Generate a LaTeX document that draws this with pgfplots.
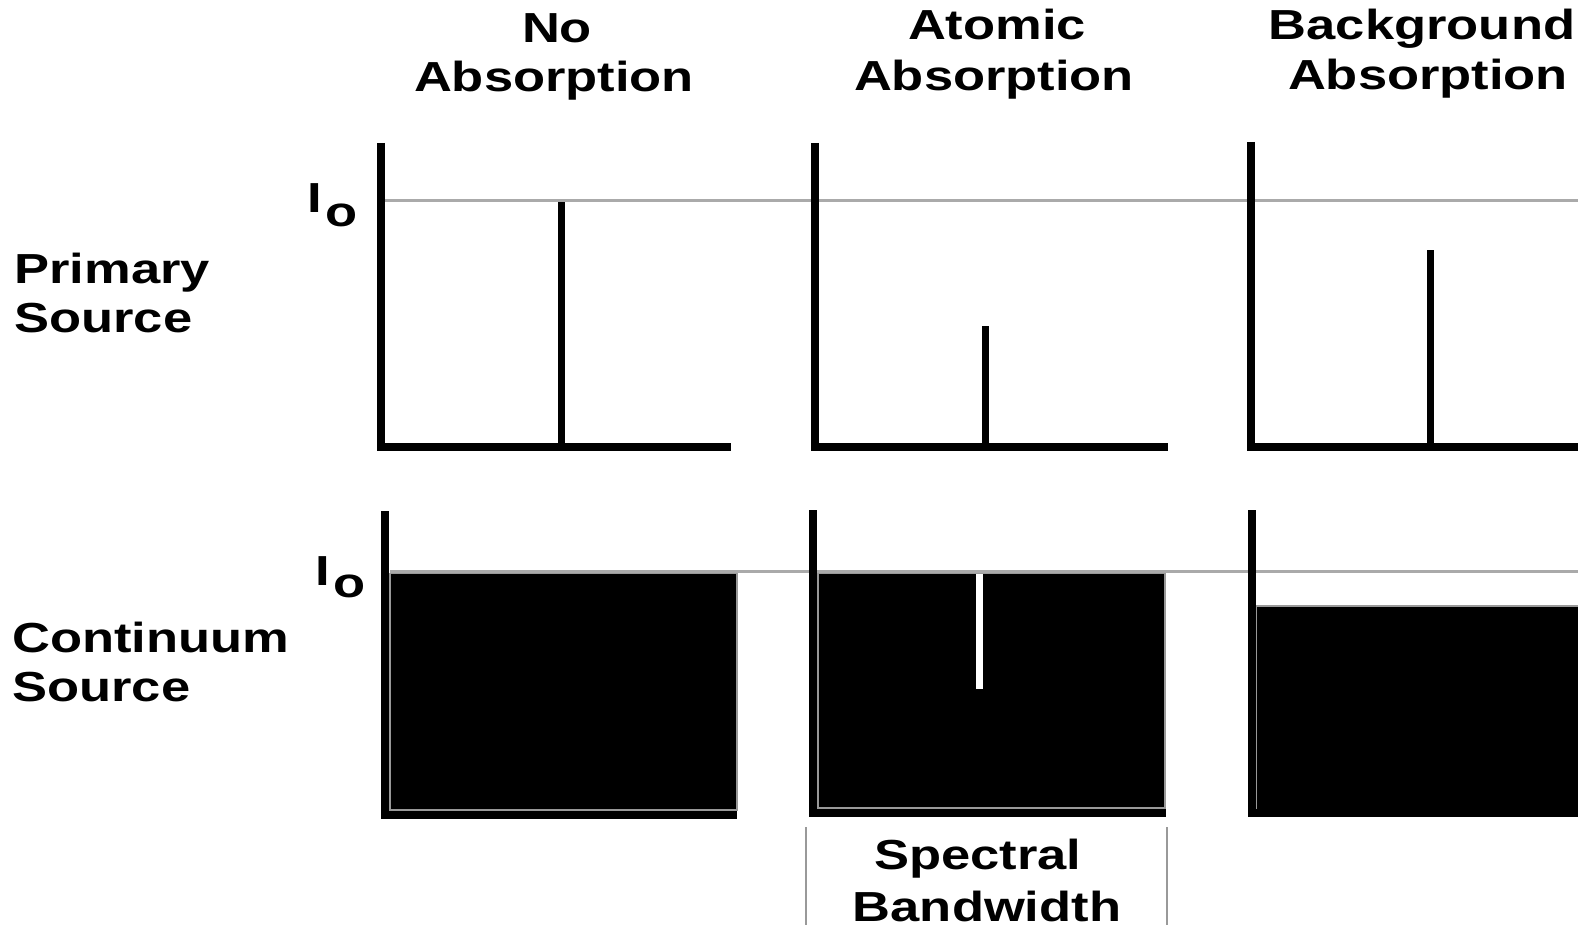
\documentclass[border=0pt]{standalone}
\usepackage{fontspec}
\usepackage{pgfplots}
\pgfplotsset{compat=1.18}
\newfontfamily\hv{Liberation Sans}[FakeStretch=1.25]
\definecolor{ioline}{HTML}{AAAAAA}
\definecolor{edge}{HTML}{999999}
\tikzset{lab/.style={font={\hv\bfseries\fontsize{21pt}{24.5pt}\selectfont}, inner sep=0pt, text=black}}
\begin{document}
\begin{tikzpicture}
\useasboundingbox (0,0) rectangle (789pt,462.5pt);
\clip (0,0) rectangle (789pt,462.5pt);
\begin{axis}[at={(0,0)}, anchor=south west, scale only axis,
  width=789pt, height=462.5pt,
  xmin=0, xmax=1578, ymin=0, ymax=925, y dir=reverse,
  axis lines=none, clip=false]

% ---- continuum-source emission (filled areas) ----
\addplot[fill=black, draw=edge, line width=1pt] coordinates {(390,573) (737,573) (737,810) (390,810) (390,573)};
\addplot[fill=black, draw=edge, line width=1pt] coordinates {(818,573) (1165,573) (1165,808) (818,808) (818,573)};
\addplot[white, line width=3.5pt] coordinates {(979,574) (979,689)};
\addplot[fill=black, draw=edge, line width=1pt] coordinates {(1256,606) (1600,606) (1600,810) (1256,810) (1256,606)};

% ---- I0 reference lines ----
\addplot[ioline, line width=1.5pt] coordinates {(385,201) (1600,201)};
\addplot[ioline, line width=1.5pt] coordinates {(390,571) (1600,571)};

% ---- primary source lines ----
\addplot[black, line width=3.5pt] coordinates {(561,446) (561,202)};
\addplot[black, line width=3.5pt] coordinates {(985.5,446) (985.5,326)};
\addplot[black, line width=3.5pt] coordinates {(1430,446) (1430,250)};

% ---- axes (top row) ----
\addplot[black, line width=4pt, line join=miter] coordinates {(381,143) (381,446.5) (731,446.5)};
\addplot[black, line width=4pt, line join=miter] coordinates {(815,143) (815,446.5) (1168,446.5)};
\addplot[black, line width=4pt, line join=miter] coordinates {(1250.5,142) (1250.5,446.5) (1600,446.5)};

% ---- axes (bottom row) ----
\addplot[black, line width=4pt, line join=miter] coordinates {(384.5,511) (384.5,814.5) (737,814.5)};
\addplot[black, line width=4pt, line join=miter] coordinates {(812.5,510) (812.5,812.5) (1166,812.5)};
\addplot[black, line width=4pt, line join=miter] coordinates {(1252,510) (1252,813) (1600,813)};

% ---- spectral bandwidth bracket ----
\addplot[edge, line width=1pt] coordinates {(806,827) (806,930)};
\addplot[edge, line width=1pt] coordinates {(1167,827) (1167,930)};

% ---- texts ----
\node[lab, anchor=base] at (axis cs:557,43) {No};
\node[lab, anchor=base] at (axis cs:554,92) {Absorption};
\node[lab, anchor=base] at (axis cs:997,40) {Atomic};
\node[lab, anchor=base] at (axis cs:994,91) {Absorption};
\node[lab, anchor=base] at (axis cs:1422,40) {Background};
\node[lab, anchor=base] at (axis cs:1428,90) {Absorption};

\node[lab, anchor=base west] at (axis cs:14,283) {Primary};
\node[lab, anchor=base west] at (axis cs:14,332) {Source};
\node[lab, anchor=base west] at (axis cs:12,652) {Continuum};
\node[lab, anchor=base west] at (axis cs:12,701) {Source};

\node[lab, anchor=base] at (axis cs:978,869) {Spectral};
\node[lab, anchor=base] at (axis cs:987,921) {Bandwidth};

\node[lab, anchor=base] at (axis cs:314.5,213) {I};
\node[lab, anchor=base] at (axis cs:342,227) {o};
\node[lab, anchor=base] at (axis cs:323,585) {I};
\node[lab, anchor=base] at (axis cs:349.5,597) {o};
\end{axis}
\end{tikzpicture}
\end{document}
